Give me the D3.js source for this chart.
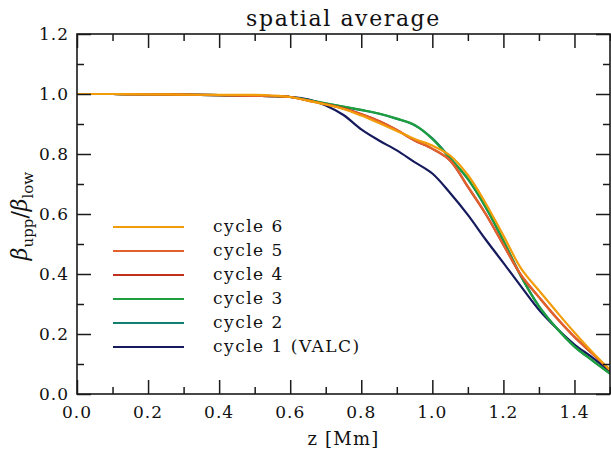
<!DOCTYPE html>
<html>
<head>
<meta charset="utf-8">
<script src="https://cdn.jsdelivr.net/npm/d3@7"></script>
<style>
  html, body { margin: 0; padding: 0; background: #fff; }
  svg { display: block; }
  text { font-family: "DejaVu Serif", "Liberation Serif", serif; fill: #111; }
</style>
</head>
<body>
<svg id="chart" width="611" height="454"></svg>
<script>
// Height grid z [Mm]
const zGrid = [0, 0.1, 0.2, 0.3, 0.4, 0.5, 0.55, 0.6, 0.65, 0.7, 0.75, 0.8, 0.85, 0.9, 0.95,
               1.0, 1.05, 1.1, 1.15, 1.2, 1.25, 1.3, 1.35, 1.4, 1.45, 1.5];

// beta_upp / beta_low, spatial average, per cycle
const cycle1 = [1.0, 1.0, 0.999, 0.998, 0.996, 0.994, 0.993, 0.990, 0.982, 0.962, 0.930, 0.882, 0.845, 0.812,
                0.773, 0.735, 0.670, 0.597, 0.515, 0.437, 0.358, 0.281, 0.219, 0.165, 0.122, 0.075];
const cycle2 = [1.0, 1.0, 0.999, 0.998, 0.996, 0.994, 0.993, 0.990, 0.980, 0.968, 0.957, 0.946, 0.934, 0.917,
                0.896, 0.852, 0.787, 0.716, 0.622, 0.510, 0.392, 0.293, 0.219, 0.158, 0.112, 0.068];
const cycle3 = [1.0, 1.0, 0.999, 0.998, 0.996, 0.994, 0.993, 0.990, 0.980, 0.969, 0.958, 0.947, 0.935, 0.918,
                0.897, 0.850, 0.785, 0.718, 0.624, 0.512, 0.391, 0.292, 0.219, 0.158, 0.112, 0.068];
const cycle4 = [1.0, 1.0, 0.999, 0.998, 0.996, 0.994, 0.993, 0.990, 0.978, 0.966, 0.952, 0.933, 0.910, 0.880,
                0.845, 0.817, 0.778, 0.690, 0.600, 0.497, 0.395, 0.323, 0.253, 0.190, 0.135, 0.080];
const cycle5 = [1.0, 1.0, 0.999, 0.998, 0.996, 0.994, 0.993, 0.990, 0.978, 0.966, 0.951, 0.932, 0.909, 0.880,
                0.846, 0.818, 0.779, 0.692, 0.601, 0.498, 0.396, 0.323, 0.253, 0.190, 0.135, 0.080];
const cycle6 = [1.0, 1.0, 0.999, 0.998, 0.997, 0.997, 0.995, 0.990, 0.978, 0.965, 0.950, 0.928, 0.903, 0.877,
                0.850, 0.828, 0.795, 0.730, 0.636, 0.528, 0.418, 0.345, 0.274, 0.205, 0.140, 0.080];

const seriesNames = ["cycle 1 (VALC)", "cycle 2", "cycle 3", "cycle 4", "cycle 5", "cycle 6"];
const seriesColors = ["#141a5c", "#128070", "#1e9e3c", "#c0301c", "#e2622e", "#f29c0a"];
const seriesValues = [cycle1, cycle2, cycle3, cycle4, cycle5, cycle6];

const xTickValues = [0, 0.2, 0.4, 0.6, 0.8, 1.0, 1.2, 1.4];
const xMinorValues = [0.1, 0.3, 0.5, 0.7, 0.9, 1.1, 1.3, 1.5];
const yTickValues = [0, 0.2, 0.4, 0.6, 0.8, 1.0, 1.2];
const yMinorValues = [0.1, 0.3, 0.5, 0.7, 0.9, 1.1];

const svg = d3.select("#chart");
const margin = { left: 77, right: 1, top: 34, bottom: 60 };
const W = 611, H = 454;
const x = d3.scaleLinear().domain([0, 1.5]).range([margin.left, W - margin.right]);
const y = d3.scaleLinear().domain([0, 1.2]).range([H - margin.bottom, margin.top]);

const axisColor = "#1a1a1a";
const majorLen = 14, minorLen = 7;

// Curves (clipped to the frame)
svg.append("clipPath").attr("id", "plotclip")
  .append("rect").attr("x", x(0)).attr("y", y(1.2)).attr("width", x(1.5) - x(0)).attr("height", y(0) - y(1.2));

const line = d3.line()
  .x(d => x(d[0]))
  .y(d => y(d[1]))
  .curve(d3.curveCatmullRom.alpha(0.5));

const curves = svg.append("g").attr("clip-path", "url(#plotclip)");
seriesValues.forEach((vals, i) => {
  curves.append("path")
    .datum(zGrid.map((z, k) => [z, vals[k]]))
    .attr("fill", "none")
    .attr("stroke", seriesColors[i])
    .attr("stroke-width", 2.2)
    .attr("stroke-linejoin", "round")
    .attr("d", line);
});

// Axes: ticks point inward on all four sides
function tickG(axis, transform, values, len) {
  const g = svg.append("g").attr("transform", transform)
    .call(axis.tickValues(values).tickSize(len).tickFormat(""));
  g.select(".domain").remove();
  g.selectAll(".tick line").attr("stroke", axisColor).attr("stroke-width", 1.5);
  return g;
}
tickG(d3.axisTop(x), `translate(0,${y(0)})`, xTickValues, majorLen);
tickG(d3.axisTop(x), `translate(0,${y(0)})`, xMinorValues, minorLen);
tickG(d3.axisBottom(x), `translate(0,${y(1.2)})`, xTickValues, majorLen);
tickG(d3.axisBottom(x), `translate(0,${y(1.2)})`, xMinorValues, minorLen);
tickG(d3.axisRight(y), `translate(${x(0)},0)`, yTickValues, majorLen);
tickG(d3.axisRight(y), `translate(${x(0)},0)`, yMinorValues, minorLen);
tickG(d3.axisLeft(y), `translate(${x(1.5)},0)`, yTickValues, majorLen);
tickG(d3.axisLeft(y), `translate(${x(1.5)},0)`, yMinorValues, minorLen);

// Frame
svg.append("rect")
  .attr("x", x(0)).attr("y", y(1.2))
  .attr("width", x(1.5) - x(0)).attr("height", y(0) - y(1.2))
  .attr("fill", "none").attr("stroke", axisColor).attr("stroke-width", 1.6);

// Tick labels
const fmt = d3.format(".1f");
svg.append("g").selectAll("text").data(xTickValues).join("text")
  .attr("x", d => x(d)).attr("y", y(0) + 24)
  .attr("text-anchor", "middle")
  .attr("font-size", 17).attr("letter-spacing", 1)
  .text(fmt);
svg.append("g").selectAll("text").data(yTickValues).join("text")
  .attr("x", x(0) - 8).attr("y", d => y(d) + 6)
  .attr("text-anchor", "end")
  .attr("font-size", 17).attr("letter-spacing", 1)
  .text(fmt);

// Title and axis titles
svg.append("text")
  .attr("x", (x(0) + x(1.5)) / 2).attr("y", 26)
  .attr("text-anchor", "middle")
  .attr("font-size", 22).attr("letter-spacing", 1.6)
  .text("spatial average");

svg.append("text")
  .attr("x", (x(0) + x(1.5)) / 2).attr("y", 445)
  .attr("text-anchor", "middle")
  .attr("font-size", 18).attr("letter-spacing", 1.2)
  .text("z [Mm]");

const ylab = svg.append("text")
  .attr("transform", `translate(27,${(y(0) + y(1.2)) / 2 + 2}) rotate(-90)`)
  .attr("text-anchor", "middle")
  .attr("font-size", 22);
ylab.append("tspan").attr("font-style", "italic").text("β");
ylab.append("tspan").attr("font-size", 15).attr("dy", 6).text("upp");
ylab.append("tspan").attr("dy", -6).text("/");
ylab.append("tspan").attr("font-style", "italic").text("β");
ylab.append("tspan").attr("font-size", 15).attr("dy", 6).text("low");

// Legend, cycle 6 at the top
const legendOrder = [5, 4, 3, 2, 1, 0];
const leg = svg.append("g");
legendOrder.forEach((si, r) => {
  const ly = 227 + r * 24;
  leg.append("line")
    .attr("x1", 113).attr("x2", 184).attr("y1", ly).attr("y2", ly)
    .attr("stroke", seriesColors[si]).attr("stroke-width", 2);
  leg.append("text")
    .attr("x", 213).attr("y", ly + 5)
    .attr("font-size", 17).attr("letter-spacing", 1.5)
    .text(seriesNames[si]);
});
</script>
</body>
</html>
